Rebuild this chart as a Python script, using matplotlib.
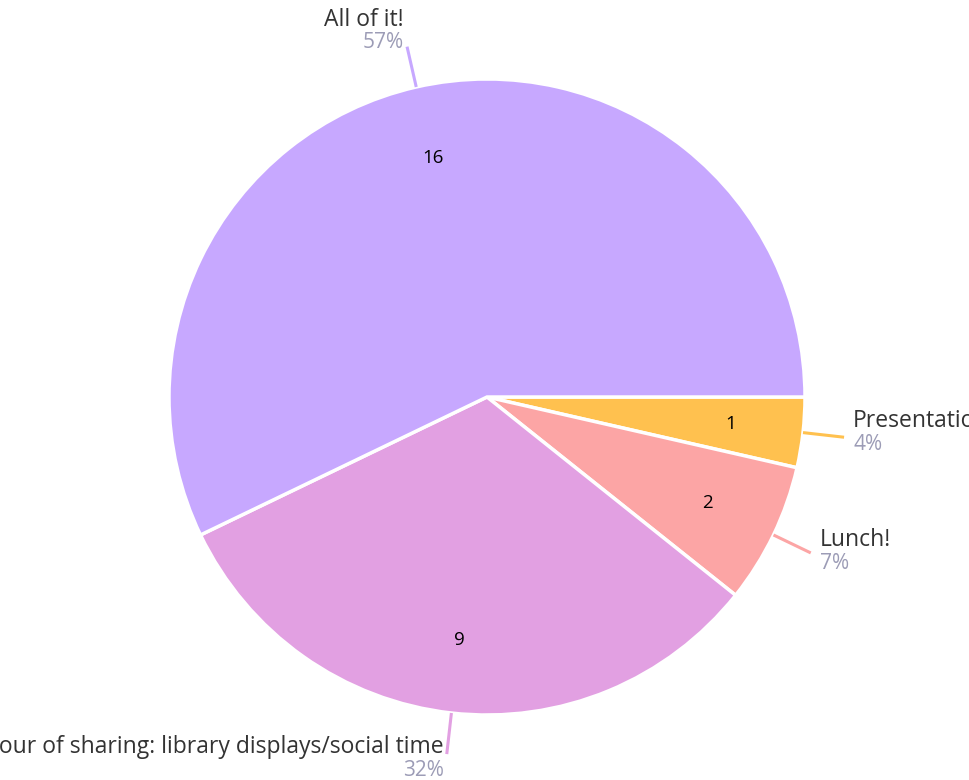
import numpy as np
import matplotlib.pyplot as plt

labels = ['Presentations', 'Lunch!', 'Hour of sharing: library displays/social time', 'All of it!']
counts = [1, 2, 9, 16]
colors = ['#FFC14F', '#FCA5A5', '#E2A0E2', '#C7A8FF']

W, H = 970, 780
fig = plt.figure(figsize=(W / 100, H / 100), dpi=100)
ax = fig.add_axes([0, 0, 1, 1])

cx, cy, R = 487, H - 397, 318
wedges, _ = ax.pie(counts, colors=colors, startangle=0, counterclock=False,
                   center=(cx, cy), radius=R, frame=True,
                   wedgeprops=dict(edgecolor='white', linewidth=2.5))
ax.set_xlim(0, W)
ax.set_ylim(0, H)
ax.set_aspect('equal')
ax.axis('off')

font = 'Open Sans'
total = sum(counts)
for w, lab, n, col in zip(wedges, labels, counts, colors):
    mid = np.deg2rad((w.theta1 + w.theta2) / 2)
    c, s = np.cos(mid), np.sin(mid)
    # count inside the slice
    ax.text(cx + 0.77 * R * c, cy + 0.77 * R * s, str(n), ha='center', va='center',
            fontsize=13.5, color='black', family=font)
    # leader line
    x0, y0 = cx + R * c, cy + R * s
    x1, y1 = cx + 1.13 * R * c, cy + 1.13 * R * s
    ax.plot([x0, x1], [y0, y1], color=col, lw=2.2, solid_capstyle='butt')
    pct = '%d%%' % round(100 * n / total)
    if c >= 0:
        ha, tx = 'left', x1 + 9
    else:
        ha, tx = 'right', x1 - 3
    ny = y1 + 17 + 10 * s
    py = ny - 23
    ax.text(tx, ny, lab, ha=ha, va='center', fontsize=16.5, color='#333333', family=font)
    ax.text(tx, py, pct, ha=ha, va='center', fontsize=15, color='#9C9CB6', family=font)

fig.savefig('out.png', dpi=100)
